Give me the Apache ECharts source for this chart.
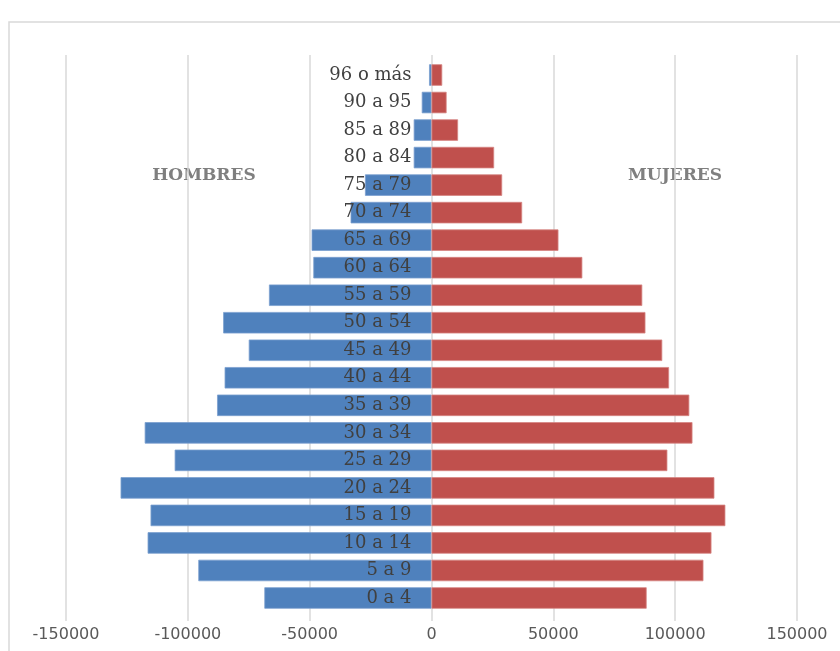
<!DOCTYPE html>
<html>
<head>
<meta charset="utf-8">
<script src="https://cdn.jsdelivr.net/npm/echarts@6/dist/echarts.min.js"></script>
<style>
html,body{margin:0;padding:0;background:#fff;}
#chart{width:840px;height:651px;}
</style>
</head>
<body>
<div id="chart"></div>
<script>
const categories = ['0 a 4','5 a 9','10 a 14','15 a 19','20 a 24','25 a 29','30 a 34','35 a 39','40 a 44','45 a 49','50 a 54','55 a 59','60 a 64','65 a 69','70 a 74','75 a 79','80 a 84','85 a 89','90 a 95','96 o más'];
const hombres = [-68600,-95700,-116500,-115300,-127600,-105400,-117700,-88000,-84900,-75000,-85500,-66700,-48500,-49200,-33200,-27300,-7300,-7300,-4000,-1000];
const mujeres = [88300,111600,114900,120600,116100,96800,107100,105800,97500,94700,87800,86500,61900,52100,37200,29000,25700,10900,6200,4400];
const xTicks = {min:-150000, max:150000, interval:50000};

const chart = echarts.init(document.getElementById('chart'), null, {renderer:'canvas'});
chart.setOption({
  animation:false,
  backgroundColor:'#ffffff',
  graphic:[
    {type:'rect', shape:{x:9, y:22, width:850, height:650}, style:{fill:'none', stroke:'#d9d9d9', lineWidth:1.5}, z:-1},
    {type:'text', x:204, y:176, style:{text:'HOMBRES', fill:'#7f7f7f', font:'bold 17px "DejaVu Serif"', align:'center', verticalAlign:'middle'}},
    {type:'text', x:675, y:176, style:{text:'MUJERES', fill:'#7f7f7f', font:'bold 17px "DejaVu Serif"', align:'center', verticalAlign:'middle'}}
  ],
  grid:[
    {left:66, right:43, top:61.25, bottom:39.25, containLabel:false, outerBoundsMode:'none'},
    {left:66, right:43, top:55, bottom:30, containLabel:false, outerBoundsMode:'none'}
  ],
  xAxis:[
    {type:'value', gridIndex:0, min:xTicks.min, max:xTicks.max, interval:xTicks.interval,
     axisLine:{show:false}, axisTick:{show:false}, splitLine:{show:false},
     axisLabel:{color:'#595959', fontFamily:'DejaVu Sans', fontSize:16, margin:15, formatter:function(v){return String(v);}}},
    {type:'value', gridIndex:1, min:xTicks.min, max:xTicks.max, interval:xTicks.interval,
     axisLine:{show:false}, axisTick:{show:false}, axisLabel:{show:false},
     splitLine:{show:true, lineStyle:{color:'#d9d9d9', width:1.5}}}
  ],
  yAxis:[
    {type:'category', gridIndex:0, data:categories, z:10, position:'left', offset:-365.5,
     axisLine:{show:false, onZero:false}, axisTick:{show:false}, splitLine:{show:false},
     axisLabel:{color:'#404040', fontFamily:'DejaVu Serif', fontSize:18, margin:20}},
    {type:'value', gridIndex:1, min:0, max:1, show:false}
  ],
  series:[
    {name:'Hombres', type:'bar', xAxisIndex:0, yAxisIndex:0, data:hombres, barGap:'-100%', barCategoryGap:'22%',
     itemStyle:{color:'#4f81bd', borderColor:'#7b9fcf', borderWidth:0.8}},
    {name:'Mujeres', type:'bar', xAxisIndex:0, yAxisIndex:0, data:mujeres, barGap:'-100%', barCategoryGap:'22%',
     itemStyle:{color:'#c0504d', borderColor:'#d58583', borderWidth:0.8}}
  ]
});
</script>
</body>
</html>
